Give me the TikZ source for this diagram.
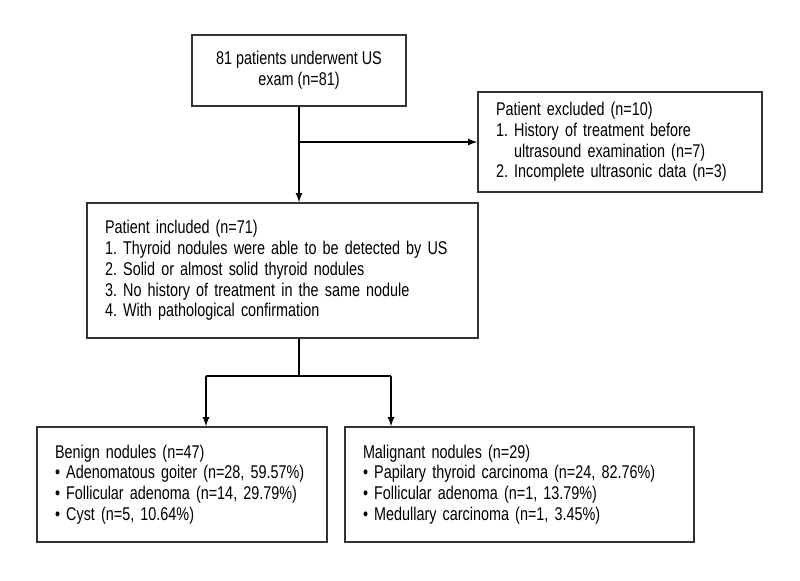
\documentclass[tikz,border=0pt]{standalone}
\usepackage{fontspec}
\setmainfont{Liberation Sans}[FakeStretch=0.78]
\usepackage{tikz}
\usetikzlibrary{positioning}
\frenchspacing

\tikzset{
    flowbox/.style={draw=black!80, thick, inner xsep=0.36cm, inner ysep=0pt,
        align=left, font=\fontsize{10.5}{11.8}\selectfont},
}

\begin{document}
\begin{tikzpicture}
    \useasboundingbox (0,0) rectangle (16,-11.6);
    % boxes
    \node[flowbox, align=center, minimum width=4.28cm, minimum height=1.42cm] (exam) at (5.98,-1.41)
        {81 patients underwent US\\exam (n=81)};
    \node[flowbox, text width=4.96cm, minimum height=2.0cm] (excluded) at (12.4,-2.84)
        {Patient excluded (n=10)\\1. History of treatment before\\\phantom{1. }ultrasound examination (n=7)\\2. Incomplete ultrasonic data (n=3)};
    \node[flowbox, text width=7.1cm, minimum height=2.7cm] (included) at (5.65,-5.41)
        {Patient included (n=71)\\1. Thyroid nodules were able to be detected by US\\2. Solid or almost solid thyroid nodules\\3. No history of treatment in the same nodule\\4. With pathological confirmation};
    \node[flowbox, text width=5.08cm, minimum height=2.3cm] (benign) at (3.64,-9.69)
        {Benign nodules (n=47)\\\textbullet\ Adenomatous goiter (n=28, 59.57\%)\\\textbullet\ Follicular adenoma (n=14, 29.79\%)\\\textbullet\ Cyst (n=5, 10.64\%)};
    \node[flowbox, text width=6.26cm, minimum height=2.3cm] (malignant) at (10.39,-9.69)
        {Malignant nodules (n=29)\\\textbullet\ Papilary thyroid carcinoma (n=24, 82.76\%)\\\textbullet\ Follicular adenoma (n=1, 13.79\%)\\\textbullet\ Medullary carcinoma (n=1, 3.45\%)};

    % connectors
    \coordinate (split) at (5.98,-7.52);
    \coordinate (leftdrop) at (4.12,-7.52);
    \coordinate (rightdrop) at (7.82,-7.52);
    \draw[->,-latex,thick] (exam.south) -- (exam.south |- included.north);
    \draw[->,-latex,thick] (exam.south |- excluded.west) -- (excluded.west);
    \draw[thick] (included.south -| split) -- (split);
    \draw[thick] (leftdrop) -- (rightdrop);
    \draw[->,-latex,thick] (leftdrop) -- (leftdrop |- benign.north);
    \draw[->,-latex,thick] (rightdrop) -- (rightdrop |- malignant.north);
\end{tikzpicture}
\end{document}
